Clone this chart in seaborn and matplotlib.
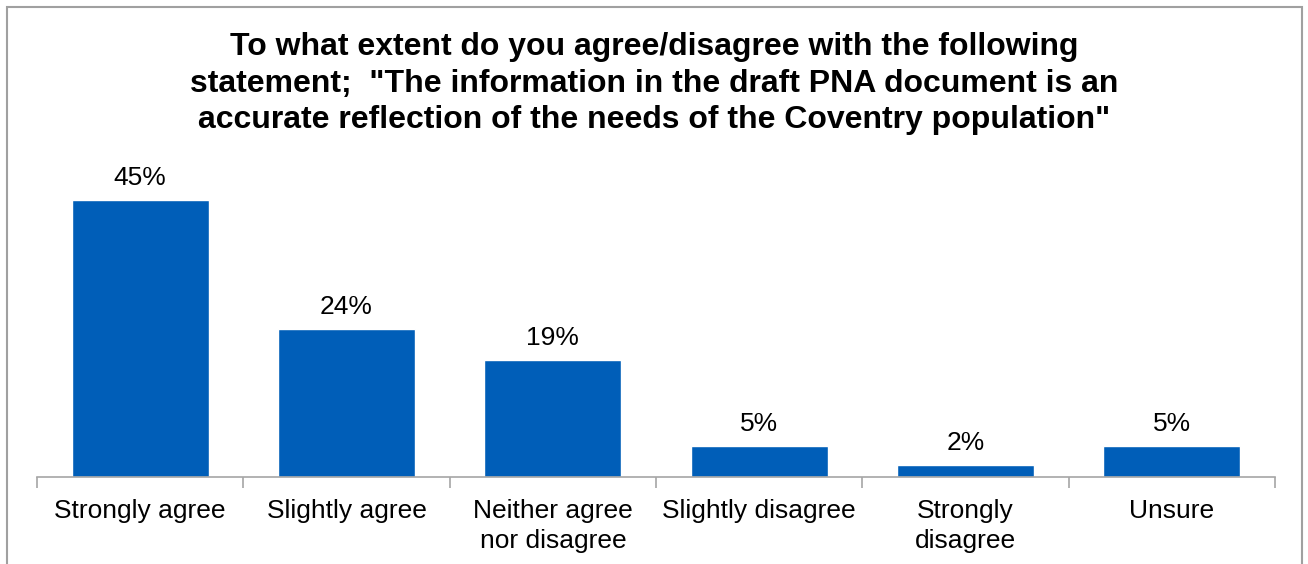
import matplotlib
matplotlib.use("Agg")
import matplotlib.pyplot as plt
import seaborn as sns
import pandas as pd
from matplotlib.patches import Rectangle

# === Daten ===
categories = ["Strongly agree", "Slightly agree", "Neither agree\nnor disagree",
              "Slightly disagree", "Strongly\ndisagree", "Unsure"]
percentages = [45, 24, 19, 5, 2, 5]

title = ('To what extent do you agree/disagree with the following\n'
         'statement;  "The information in the draft PNA document is an\n'
         'accurate reflection of the needs of the Coventry population"')

df = pd.DataFrame({"category": categories, "pct": percentages})

# === Stil ===
sns.set_style("white")
plt.rcParams["font.family"] = ["Liberation Sans", "DejaVu Sans"]
plt.rcParams["text.color"] = "black"
plt.rcParams["xtick.color"] = "black"

fig = plt.figure(figsize=(13.08, 5.64), dpi=100)
ax = fig.add_axes([0.0283, 0.1543, 0.9465, 0.541])

sns.barplot(data=df, x="category", y="pct", color="#005EB8", saturation=1,
            width=0.665, ax=ax)

ax.set_ylim(0, 49.5)
ax.set_xlim(-0.5, len(categories) - 0.5)
ax.bar_label(ax.containers[0], labels=[f"{v}%" for v in percentages],
             padding=7, fontsize=19, color="black")

# Achsen aufräumen
for side in ["left", "right", "top"]:
    ax.spines[side].set_visible(False)
ax.spines["bottom"].set_color("#a6a6a6")
ax.spines["bottom"].set_linewidth(1.2)
ax.set_yticks([])
ax.set_xlabel("")
ax.set_ylabel("")
ax.tick_params(axis="x", which="major", length=0, pad=16, labelsize=19,
               labelcolor="black")
for lbl in ax.get_xticklabels():
    lbl.set_linespacing(1.3)
ax.set_xticks([i - 0.5 for i in range(len(categories) + 1)], minor=True)
ax.tick_params(axis="x", which="minor", bottom=True, length=8, width=1.2,
               color="#a6a6a6")

fig.suptitle(title, fontsize=23, fontweight="bold", y=0.943, linespacing=1.28,
             color="black")

# Rahmen um die Grafik
fig.patches.append(Rectangle((7 / 1308, -0.1), 1295 / 1308, 1.1 - 7 / 564,
                             transform=fig.transFigure, fill=False,
                             edgecolor="#a0a0a0", linewidth=1.5))

fig.savefig("out.png", dpi=100)
